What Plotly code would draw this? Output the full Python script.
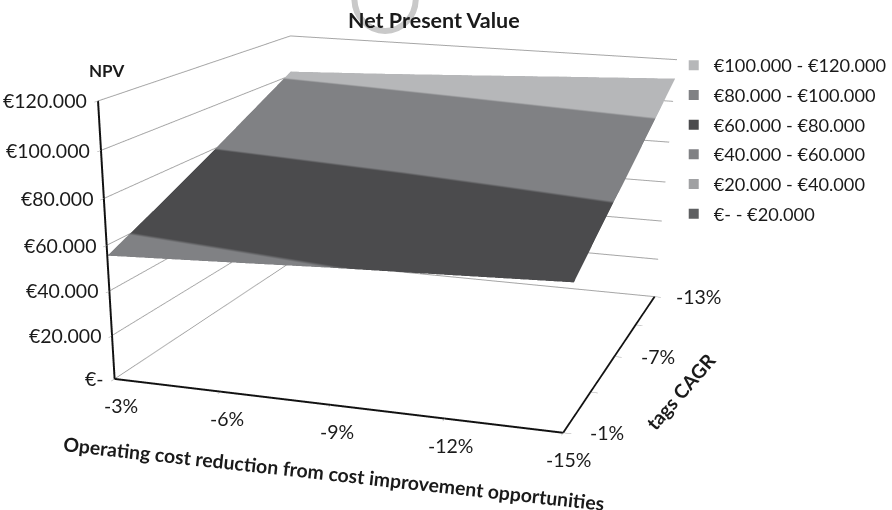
import plotly.graph_objects as go

# Surface values: rows follow tags CAGR, columns follow operating cost reduction
cost_reduction = [-3, -6, -9, -12, -15]
tags_cagr = [-1, -4, -7, -10, -13]
npv = [
    [55500, 57600, 59800, 61600, 63500],
    [66500, 68600, 70600, 73000, 75600],
    [78000, 80000, 82000, 84400, 87000],
    [90000, 92000, 94200, 96600, 99000],
    [102000, 104000, 106300, 108700, 111000],
]
npv_ticks = [0, 20000, 40000, 60000, 80000, 100000, 120000]
npv_tick_labels = ["€-", "€20.000", "€40.000", "€60.000", "€80.000", "€100.000", "€120.000"]
cost_labels = ["-3%", "-6%", "-9%", "-12%", "-15%"]
cagr_labelled = [-1, -7, -13]
cagr_labels = ["-1%", "-7%", "-13%"]
band_edges = [0, 20000, 40000, 60000, 80000, 100000, 120000]
band_names = ["€100.000 - €120.000", "€80.000 - €100.000", "€60.000 - €80.000",
              "€40.000 - €60.000", "€20.000 - €40.000", "€- - €20.000"]
band_colors = ["#b6b7b9", "#808184", "#4b4b4d", "#808184", "#a0a1a3", "#5e5f61"]

W, VISIBLE_H = 892, 510
# A tall scene gives the long lens this view needs; only the top 510 px are on screen
CANVAS_H = 1400
SCENE_W = 780


def from_top(px):
    return 1 - px / CANVAS_H


# Stepped colour scale so each 20.000 band is one flat tone
scale = []
for i, color in enumerate(reversed(band_colors)):
    scale += [[band_edges[i] / band_edges[-1], color], [band_edges[i + 1] / band_edges[-1], color]]

fig = go.Figure()
fig.add_trace(go.Surface(x=cost_reduction, y=tags_cagr, z=npv, colorscale=scale,
                         cmin=band_edges[0], cmax=band_edges[-1],
                         showscale=False, showlegend=False, hoverinfo="skip",
                         lighting=dict(ambient=1, diffuse=0, specular=0, roughness=1, fresnel=0)))
for name, color in zip(band_names, band_colors):
    fig.add_trace(go.Scatter3d(x=[None], y=[None], z=[None], mode="markers", name=name, legendgroup=name,
                               marker=dict(size=10, color=color, symbol="square")))

INK = "#1a1a1a"
tick_font = dict(family="Lato", size=19.5, color=INK)
legend_font = dict(family="Lato", size=18.2, color=INK)
title_font = dict(family="Lato", size=19.4, color=INK, weight="bold")

notes = []
for value, label in zip(npv_ticks, npv_tick_labels):
    notes.append(dict(x=-3, y=-1, z=value, text=label, showarrow=False, xanchor="right", xshift=-9, font=tick_font))
for value, label in zip(cost_reduction, cost_labels):
    notes.append(dict(x=value, y=-1, z=0, text=label, showarrow=False, xshift=6, yshift=-27, font=tick_font))
for value, label in zip(cagr_labelled, cagr_labels):
    notes.append(dict(x=-15, y=value, z=0, text=label, showarrow=False, xshift=44, font=tick_font))
notes.append(dict(x=-3, y=-1, z=120000, text="NPV", showarrow=False, xshift=8, yshift=30,
                  font=dict(family="Lato", size=17, color=INK, weight="bold")))
notes.append(dict(x=-9, y=-1, z=0, showarrow=False, yshift=-69, xshift=3, textangle=6.3, font=title_font,
                  text="Operating cost reduction from cost improvement opportunities"))
notes.append(dict(x=-15, y=-7, z=0, showarrow=False, xshift=66, yshift=-35, textangle=-49, font=title_font,
                  text="tags CAGR"))


def axis(**kw):
    return dict(showbackground=False, showspikes=False, zeroline=False, showline=True, linecolor="#111111",
                linewidth=4, ticks="outside", ticklen=6, tickcolor="#999999", showticklabels=False,
                title=dict(text=""), **kw)


fig.update_layout(
    width=W, height=CANVAS_H, margin=dict(l=0, r=0, t=0, b=0), paper_bgcolor="white",
    scene=dict(
        domain=dict(x=[0, SCENE_W / W], y=[0, 1]),
        xaxis=axis(range=[-15, -3], tickvals=cost_reduction, showgrid=False),
        yaxis=axis(range=[-13, -1], tickvals=tags_cagr, showgrid=False),
        zaxis=axis(range=[0, 120000], tickvals=npv_ticks, showgrid=True, gridcolor="#a6a6a6", gridwidth=2),
        aspectmode="manual", aspectratio=dict(x=1.7250, y=1.9303, z=1),
        camera=dict(eye=dict(x=-1.9343, y=6.5666, z=1.4817),
                    center=dict(x=-0.2740, y=1.0988, z=-1.6039),
                    up=dict(x=-0.1917, y=0.6710, z=1),
                    projection=dict(type="perspective")),
        annotations=notes,
    ),
    legend=dict(x=0.763, y=from_top(47), xanchor="left", yanchor="top", font=legend_font, tracegroupgap=3,
                traceorder="grouped", bgcolor="rgba(0,0,0,0)"),
    shapes=[dict(type="circle", xref="paper", yref="paper", x0=358 / W, x1=420 / W,
                 y0=from_top(31), y1=from_top(-34), line=dict(color="#c9c9c9", width=6))],
    annotations=[dict(x=438 / W, y=from_top(20), xref="paper", yref="paper", yanchor="middle",
                      text="Net Present Value", showarrow=False,
                      font=dict(family="Lato", size=21.5, color=INK, weight="bold"))],
)
fig.write_html("out.html")
